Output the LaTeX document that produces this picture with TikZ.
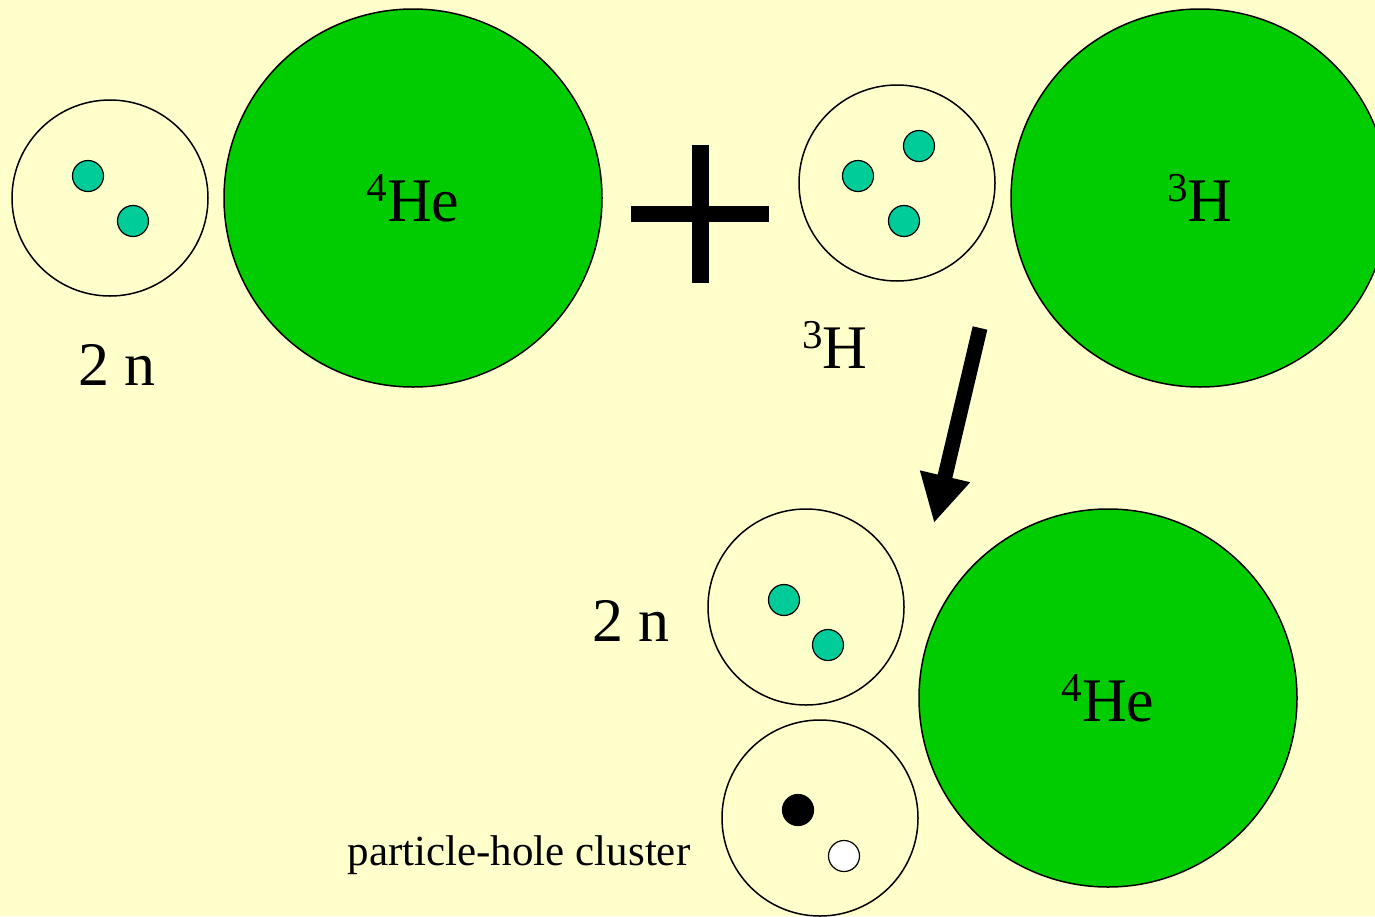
\documentclass[tikz,border=0pt]{standalone}
\usepackage{fontspec}
\setmainfont{Liberation Serif}
\usetikzlibrary{arrows.meta}
\definecolor{bg}{HTML}{FFFFCC}
\definecolor{nucgreen}{HTML}{00CC00}
\definecolor{nucteal}{HTML}{00CC99}
\newcommand\nucsup[1]{\raisebox{20pt}{\fontsize{41}{41}\selectfont #1}}
\tikzset{
  cluster/.style={circle, draw=black, line width=1.5pt, fill=bg, minimum size=196pt, inner sep=0pt},
  core/.style={circle, draw=black, line width=1.5pt, fill=nucgreen, minimum size=378pt, inner sep=0pt, font=\fontsize{62}{62}\selectfont},
  nucleon/.style={circle, draw=black, line width=1.2pt, fill=nucteal, minimum size=31pt, inner sep=0pt},
  particle/.style={nucleon, fill=black},
  hole/.style={nucleon, fill=white},
  lbl/.style={font=\fontsize{62}{62}\selectfont, inner sep=0pt, anchor=base},
  small/.style={font=\fontsize{43}{43}\selectfont, inner sep=0pt, anchor=base},
  bigarrow/.style={line width=15pt, -{Triangle[length=48pt,width=48pt]}},
}
\begin{document}
\begin{tikzpicture}[x=1pt,y=-1pt]
\fill[bg] (0,0) rectangle (1375,916);
\useasboundingbox (0,0) rectangle (1375,916);
% top left: 2n + 4He
\node[cluster] (c1) at (110,198) {};
\node[nucleon] (n1a) at (88,176) {};
\node[nucleon] (n1b) at (133,221) {};
\node[core] (he1) at (413,198) {\nucsup{4}He};
\node[lbl] (l2n1) at (117,385) {2 n};
% plus
\draw[line width=16pt] (631,214) -- (769,214);
\draw[line width=17pt] (700,145) -- (700,283);
% top right: 3H + 3H
\node[cluster] (c2) at (897,183) {};
\node[nucleon] (n2a) at (919,146) {};
\node[nucleon] (n2b) at (858,176) {};
\node[nucleon] (n2c) at (904,221) {};
\node[core] (h3) at (1200,198) {\nucsup{3}H};
\node[lbl] (l3h) at (835,368) {\nucsup{3}H};
% arrow
\coordinate (as) at (980,328);
\coordinate (ae) at (934,523);
\draw[bigarrow] (as) -- (ae);
% bottom
\node[cluster] (c3) at (806,607) {};
\node[nucleon] (n3a) at (784,600) {};
\node[nucleon] (n3b) at (828,645) {};
\node[lbl] (l2n2) at (631,641) {2 n};
\node[core] (he2) at (1108,698) {\nucsup{4}He};
\node[cluster] (c4) at (820,818) {};
\node[particle] (p4) at (798,810) {};
\node[hole] (h4) at (844,856) {};
\node[small] (lph) at (519,865) {particle-hole cluster};
\end{tikzpicture}
\end{document}
